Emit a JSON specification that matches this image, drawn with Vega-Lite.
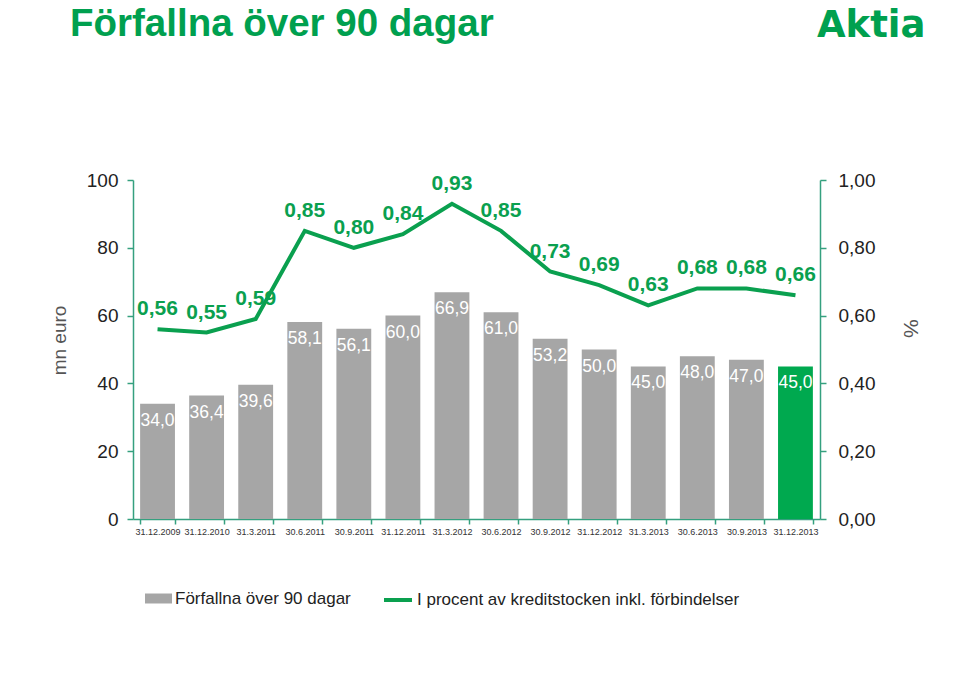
{
  "$schema": "https://vega.github.io/schema/vega-lite/v6.json",
  "width": 687,
  "height": 339,
  "autosize": {"type": "none"},
  "padding": {"left": 133, "top": 180, "right": 140, "bottom": 155},
  "background": "white",
  "config": {
    "locale": {"number": {"decimal": ",", "thousands": " ", "grouping": [3], "currency": ["", " €"]}},
    "font": "Liberation Sans",
    "view": {"stroke": null},
    "axis": {"grid": false, "domainColor": "#35a07f", "tickColor": "#35a07f", "domainWidth": 1.5, "tickWidth": 1.5, "labelFont": "Liberation Sans", "titleFont": "Liberation Sans", "labelColor": "#222", "titleColor": "#555", "titleFontWeight": "normal"}
  },
  "title": {"text": "Förfallna över 90 dagar", "anchor": "start", "frame": "group", "dx": -63, "dy": 72, "baseline": "alphabetic", "fontSize": 38.5, "fontWeight": "bold", "color": "#00a04f", "font": "Liberation Sans"},
  "data": {"values": [
    {"date": "31.12.2009", "value": 34.0, "pct": 0.56},
    {"date": "31.12.2010", "value": 36.4, "pct": 0.55},
    {"date": "31.3.2011", "value": 39.6, "pct": 0.59},
    {"date": "30.6.2011", "value": 58.1, "pct": 0.85},
    {"date": "30.9.2011", "value": 56.1, "pct": 0.80},
    {"date": "31.12.2011", "value": 60.0, "pct": 0.84},
    {"date": "31.3.2012", "value": 66.9, "pct": 0.93},
    {"date": "30.6.2012", "value": 61.0, "pct": 0.85},
    {"date": "30.9.2012", "value": 53.2, "pct": 0.73},
    {"date": "31.12.2012", "value": 50.0, "pct": 0.69},
    {"date": "31.3.2013", "value": 45.0, "pct": 0.63},
    {"date": "30.6.2013", "value": 48.0, "pct": 0.68},
    {"date": "30.9.2013", "value": 47.0, "pct": 0.68},
    {"date": "31.12.2013", "value": 45.0, "pct": 0.66}
  ]},
  "resolve": {"scale": {"y": "independent"}, "axis": {"x": "independent"}},
  "layer": [
    {
      "layer": [
        {
          "mark": {"type": "bar"},
          "encoding": {
            "x": {"field": "date", "type": "nominal", "sort": null,
                  "scale": {"paddingInner": 0.29, "paddingOuter": 0.145},
                  "axis": {"orient": "bottom", "title": null, "labelAngle": 0, "labelFontSize": 9, "labelPadding": 3, "tickSize": 5, "tickBand": "extent", "labelOverlap": false, "labelColor": "#333"}},
            "y": {"field": "value", "type": "quantitative", "scale": {"domain": [0, 100]},
                  "axis": {"orient": "left", "values": [0, 20, 40, 60, 80, 100], "format": "d", "title": "mn euro", "titleFontSize": 19, "titleY": 160, "labelFontSize": 19, "tickSize": 6, "labelPadding": 9, "titlePadding": 17}},
            "fill": {"condition": {"test": "datum.date === '31.12.2013'", "value": "#00a94f"},
                     "datum": "Förfallna över 90 dagar", "type": "nominal",
                     "scale": {"range": ["#a6a6a6"]},
                     "legend": {"orient": "none", "legendX": 12, "legendY": 405, "title": null, "symbolType": "M-1,-0.37H1V0.37H-1Z", "symbolSize": 729, "symbolStrokeWidth": 0, "labelFontSize": 17, "labelFont": "Liberation Sans", "labelColor": "#222", "labelOffset": 3, "labelLimit": 500, "padding": 0}}
          }
        },
        {
          "mark": {"type": "text", "baseline": "middle", "dy": 17, "fontSize": 17.5, "color": "white"},
          "encoding": {
            "x": {"field": "date", "type": "nominal", "sort": null},
            "y": {"field": "value", "type": "quantitative"},
            "text": {"field": "value", "type": "quantitative", "format": ".1f"}
          }
        }
      ]
    },
    {
      "layer": [
        {
          "mark": {"type": "line", "strokeWidth": 4},
          "encoding": {
            "x": {"field": "date", "type": "nominal", "sort": null,
                  "axis": {"orient": "top", "labels": false, "ticks": false, "domain": false, "title": "Aktia", "titleX": 792, "titleY": -144, "titleAlign": "right", "titleBaseline": "alphabetic", "titleAngle": 0, "titleFont": "DejaVu Sans", "titleFontSize": 37, "titleFontWeight": "bold", "titleColor": "#00a04f"}},
            "y": {"field": "pct", "type": "quantitative", "scale": {"domain": [0, 1]},
                  "axis": {"orient": "right", "values": [0, 0.2, 0.4, 0.6, 0.8, 1], "format": ".2f", "title": "%", "titleFontSize": 21, "titleY": 148, "labelFontSize": 19, "tickSize": 6, "labelPadding": 12, "titlePadding": 25}},
            "stroke": {"datum": "I procent av kreditstocken inkl. förbindelser", "type": "nominal",
                       "scale": {"range": ["#0aa04f"]},
                       "legend": {"orient": "none", "legendX": 249, "legendY": 404, "title": null, "symbolType": "stroke", "symbolSize": 784, "symbolStrokeWidth": 4, "labelFontSize": 17, "labelFont": "Liberation Sans", "labelColor": "#222", "labelOffset": 3, "labelLimit": 500, "padding": 0}}
          }
        },
        {
          "mark": {"type": "text", "baseline": "middle", "dy": -20, "fontSize": 21, "fontWeight": "bold", "color": "#0aa04f"},
          "encoding": {
            "x": {"field": "date", "type": "nominal", "sort": null},
            "y": {"field": "pct", "type": "quantitative"},
            "text": {"field": "pct", "type": "quantitative", "format": ".2f"}
          }
        }
      ]
    }
  ]
}
